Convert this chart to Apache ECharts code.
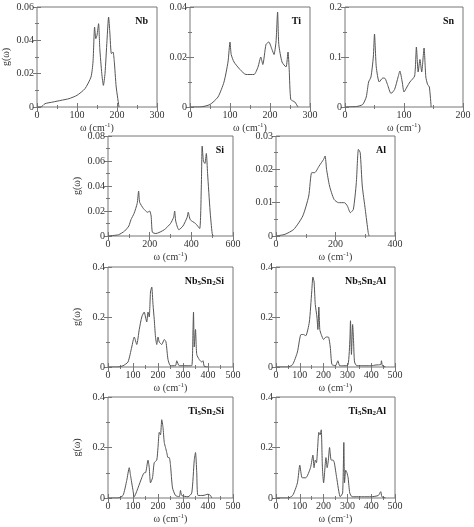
<!DOCTYPE html>
<html><head><meta charset="utf-8">
<script src="https://cdn.jsdelivr.net/npm/echarts@6/dist/echarts.min.js"></script>
<style>html,body{margin:0;padding:0;background:#fff}#c{width:474px;height:527px}</style>
</head><body><div id="c"></div>
<script>
// Data: frequency (cm^-1) and g(ω) for each panel
const nbX=[0,10,20,40,60,80,100,120,135,140,144,147,150,154,157,162,166,170,175,179,182,186,190,193,198,205];
const nbY=[0,0,0.002,0.003,0.004,0.005,0.007,0.011,0.018,0.027,0.048,0.041,0.043,0.05,0.035,0.02,0.013,0.02,0.04,0.054,0.045,0.032,0.033,0.028,0.012,0];
const tiX=[0,25,50,70,85,95,100,103,110,125,140,160,170,177,182,190,197,205,210,215,219,222,230,240,245,248,252,262,270];
const tiY=[0,0,0.001,0.004,0.01,0.018,0.026,0.021,0.018,0.015,0.013,0.013,0.016,0.02,0.017,0.025,0.026,0.023,0.021,0.026,0.038,0.025,0.018,0.016,0.022,0.015,0.003,0.002,0];
const snX=[0,20,30,36,40,44,48,50,53,58,64,68,72,78,84,90,93,97,100,105,110,118,121,124,127,130,134,137,140,143,146];
const snY=[0,0.001,0.005,0.02,0.05,0.06,0.1,0.146,0.08,0.05,0.058,0.057,0.045,0.027,0.035,0.06,0.072,0.05,0.03,0.04,0.05,0.062,0.12,0.07,0.095,0.07,0.118,0.06,0.045,0.04,0];
const siX=[0,50,80,100,110,125,140,147,152,170,190,200,207,213,230,270,300,315,320,325,340,360,380,385,395,420,440,448,452,458,465,472,478,490,500,505];
const siY=[0,0.001,0.004,0.008,0.013,0.018,0.026,0.036,0.027,0.022,0.019,0.02,0.016,0.003,0.002,0.005,0.01,0.015,0.02,0.012,0.005,0.008,0.015,0.019,0.013,0.01,0.006,0.04,0.072,0.06,0.058,0.066,0.05,0.02,0.002,0];
const alX=[0,30,60,90,110,120,130,145,160,165,170,180,195,210,230,240,250,260,270,277,283,290,300,310,313];
const alY=[0,0.0005,0.002,0.006,0.012,0.019,0.019,0.021,0.023,0.024,0.02,0.015,0.011,0.01,0.01,0.009,0.007,0.008,0.016,0.026,0.025,0.015,0.008,0.001,0];
const nbsiX=[0,40,60,80,95,105,115,125,135,145,150,155,160,165,170,175,180,185,190,195,200,205,215,225,232,240,250,270,275,285,320,335,340,342,345,350,355,365,375,380,385,400];
const nbsiY=[0,0,0.005,0.02,0.08,0.12,0.09,0.15,0.2,0.22,0.2,0.18,0.22,0.2,0.3,0.32,0.25,0.19,0.12,0.09,0.12,0.1,0.09,0.11,0.1,0.03,0.005,0.005,0.025,0.005,0.005,0.005,0.15,0.22,0.08,0.15,0.05,0.03,0.02,0.025,0.003,0];
const nbalX=[0,50,70,90,105,115,125,140,150,155,160,165,172,176,180,184,190,200,210,220,228,235,250,260,268,300,310,313,317,322,326,330,340,400,420,440,443,447,460];
const nbalY=[0,0,0.01,0.06,0.13,0.13,0.125,0.18,0.3,0.36,0.34,0.25,0.2,0.15,0.24,0.15,0.13,0.11,0.12,0.12,0.08,0.01,0.005,0.025,0.005,0.005,0.1,0.185,0.05,0.17,0.1,0.02,0.005,0.005,0.008,0.01,0.025,0.005,0];
const tisiX=[0,40,60,75,85,90,100,105,120,135,145,150,160,165,170,178,185,195,200,205,210,215,220,225,230,235,240,245,250,258,270,285,290,295,320,335,345,350,355,360,380,400,410,415];
const tisiY=[0,0,0.01,0.07,0.12,0.09,0.03,0.005,0.04,0.08,0.1,0.1,0.15,0.12,0.06,0.08,0.14,0.15,0.2,0.26,0.25,0.31,0.28,0.22,0.2,0.18,0.16,0.16,0.13,0.04,0.01,0.005,0.03,0.01,0.005,0.02,0.15,0.18,0.1,0.01,0.01,0.015,0.01,0];
const tialX=[0,50,70,90,100,110,125,145,155,160,165,170,175,180,185,190,195,200,210,215,220,225,232,240,245,255,270,280,285,288,293,298,303,310,320,400,430,440,445,460];
const tialY=[0,0,0.01,0.06,0.13,0.08,0.08,0.12,0.17,0.12,0.15,0.14,0.2,0.26,0.25,0.27,0.12,0.06,0.16,0.12,0.15,0.2,0.15,0.15,0.14,0.08,0.005,0.02,0.22,0.06,0.11,0.1,0.08,0.02,0.005,0.005,0.01,0.025,0.005,0];

const panels=[
 {x:nbX,y:nbY,lab:'Nb',xmax:300,xi:100,ymax:0.06,yi:0.02,box:[36,157,7,107],yname:true},
 {x:tiX,y:tiY,lab:'Ti',xmax:300,xi:100,ymax:0.04,yi:0.02,box:[190,310,7,107]},
 {x:snX,y:snY,lab:'Sn',xmax:200,xi:100,ymax:0.2,yi:0.1,box:[345,463,7,107]},
 {x:siX,y:siY,lab:'Si',xmax:600,xi:200,ymax:0.08,yi:0.02,box:[108,233,136,236],yname:true},
 {x:alX,y:alY,lab:'Al',xmax:400,xi:200,ymax:0.03,yi:0.01,box:[276,395,136,236]},
 {x:nbsiX,y:nbsiY,lab:'Nb{s|5}Sn{s|2}Si',xmax:500,xi:100,ymax:0.4,yi:0.2,box:[108,233,267,367],yname:true},
 {x:nbalX,y:nbalY,lab:'Nb{s|5}Sn{s|2}Al',xmax:500,xi:100,ymax:0.4,yi:0.2,box:[276,395,267,367]},
 {x:tisiX,y:tisiY,lab:'Ti{s|5}Sn{s|2}Si',xmax:500,xi:100,ymax:0.4,yi:0.2,box:[108,233,397,498],yname:true},
 {x:tialX,y:tialY,lab:'Ti{s|5}Sn{s|2}Al',xmax:500,xi:100,ymax:0.4,yi:0.2,box:[276,395,397,498]}
];
const F='Liberation Serif, DejaVu Serif, serif', C='#777';
const grid=[],xAxis=[],yAxis=[],series=[],title=[];
const tick={show:true,inside:true,length:4,lineStyle:{color:C}};
const minor={show:true,splitNumber:2,length:2,lineStyle:{color:C}};
panels.forEach((p,i)=>{
 const [l,r,t,b]=p.box;
 grid.push({left:l,width:r-l,top:t,height:b-t,show:true,borderColor:C,borderWidth:1,backgroundColor:'transparent'});
 const xb={type:'value',gridIndex:i,min:0,max:p.xmax,interval:p.xi,splitLine:{show:false},axisLine:{show:false},axisTick:tick,minorTick:minor};
 const yb={type:'value',gridIndex:i,min:0,max:p.ymax,interval:p.yi,splitLine:{show:false},axisLine:{show:false},axisTick:tick,minorTick:minor};
 xAxis.push(Object.assign({},xb,{position:'bottom',axisLabel:{fontFamily:F,fontSize:10,color:'#333',margin:3},
   name:'ω (cm{u|-1})',nameLocation:'middle',nameGap:15,nameTextStyle:{fontFamily:F,fontSize:10,color:'#333',rich:{u:{fontSize:7,verticalAlign:'top',fontFamily:F,color:'#333',padding:[0,0,5,0]}}}}));
 xAxis.push(Object.assign({},xb,{position:'top',axisLabel:{show:false}}));
 yAxis.push(Object.assign({},yb,{position:'left',axisLabel:{fontFamily:F,fontSize:10,color:'#333',margin:3,formatter:v=>v===0?'0':String(+v.toFixed(3))},
   name:p.yname?'g(ω)':'',nameLocation:'middle',nameGap:26,nameTextStyle:{fontFamily:F,fontSize:10,color:'#333'}}));
 yAxis.push(Object.assign({},yb,{position:'right',axisLabel:{show:false}}));
 series.push({type:'line',xAxisIndex:2*i,yAxisIndex:2*i,showSymbol:false,smooth:0.2,lineStyle:{color:'#555',width:1},
   data:p.x.map((v,k)=>[v,p.y[k]])});
 title.push({text:p.lab,right:474-r+4,top:t+4,textStyle:{fontFamily:F,fontSize:10,fontWeight:'bold',color:'#111',
   rich:{s:{fontSize:7,fontWeight:'bold',fontFamily:F,verticalAlign:'bottom',padding:[4,0,0,0],color:'#111'}}}});
});
const ch=echarts.init(document.getElementById('c'));
ch.setOption({animation:false,title,grid,xAxis,yAxis,series});
</script></body></html>
